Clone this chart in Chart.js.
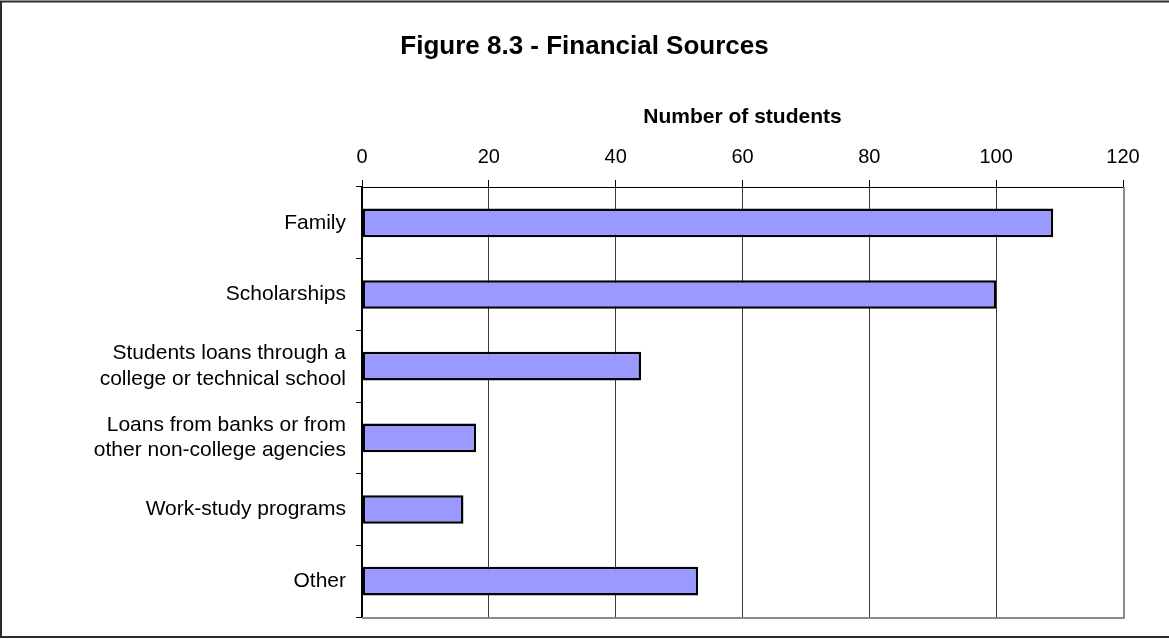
<!DOCTYPE html>
<html>
<head>
<meta charset="utf-8">
<title>Figure 8.3 - Financial Sources</title>
<script src="https://cdn.jsdelivr.net/npm/chart.js@4.4.1/dist/chart.umd.min.js"></script>
<style>
    html, body { margin: 0; padding: 0; background: #fff; }
    canvas { display: block; }
</style>
</head>
<body>
<canvas id="sources-chart" width="1169" height="639"></canvas>
<script>
// Financial sources reported by students
const sourceLabels = [
    'Family',
    'Scholarships',
    ['Students loans through a', 'college or technical school'],
    ['Loans from banks or from', 'other non-college agencies'],
    'Work-study programs',
    'Other'
];
const studentCounts = [109, 100, 44, 18, 16, 53];
const axisMin = 0;
const axisMax = 120;
const axisStep = 20;

const FONT = "Arial, 'Liberation Sans', Helvetica, sans-serif";

// Outer frame plus the grey right/bottom edges of the plot area
const framePlugin = {
    id: 'frame',
    afterDraw(chart) {
        const ctx = chart.ctx;
        const area = chart.chartArea;
        ctx.save();
        ctx.strokeStyle = '#8c8c8c';
        ctx.lineWidth = 2;
        ctx.beginPath();
        ctx.moveTo(area.right + 1, area.top);
        ctx.lineTo(area.right + 1, area.bottom + 1);
        ctx.lineTo(area.left, area.bottom + 1);
        ctx.stroke();

        ctx.strokeStyle = '#2b2b2b';
        ctx.lineWidth = 2;
        ctx.beginPath();
        ctx.moveTo(chart.width, 1.5);
        ctx.lineTo(1, 1.5);
        ctx.lineTo(1, chart.height - 2);
        ctx.lineTo(chart.width, chart.height - 2);
        ctx.stroke();
        ctx.restore();
    }
};

new Chart(document.getElementById('sources-chart'), {
    type: 'bar',
    data: {
        labels: sourceLabels,
        datasets: [{
            label: 'Number of students',
            data: studentCounts,
            backgroundColor: '#9999ff',
            borderColor: '#000000',
            borderWidth: 2.5,
            borderSkipped: false,
            barPercentage: 0.4,
            categoryPercentage: 1.0
        }]
    },
    options: {
        indexAxis: 'y',
        responsive: false,
        animation: false,
        devicePixelRatio: 1,
        layout: {
            padding: { top: 0, left: 0, right: 0, bottom: 22 }
        },
        plugins: {
            legend: { display: false },
            tooltip: { enabled: false },
            title: {
                display: true,
                text: 'Figure 8.3 - Financial Sources',
                color: '#000',
                font: { family: FONT, size: 26, weight: 'bold' },
                padding: { top: 31, bottom: 38.2 }
            }
        },
        scales: {
            x: {
                position: 'top',
                min: axisMin,
                max: axisMax,
                ticks: {
                    stepSize: axisStep,
                    color: '#000',
                    padding: 11,
                    font: { family: FONT, size: 20 }
                },
                grid: {
                    color: '#3a3a3a',
                    lineWidth: 1,
                    tickLength: 7,
                    tickColor: '#000'
                },
                border: { display: true, color: '#000', width: 1 },
                title: {
                    display: true,
                    text: 'Number of students',
                    color: '#000',
                    font: { family: FONT, size: 21, weight: 'bold' },
                    padding: { top: 4, bottom: 4.4 }
                },
                afterFit(scale) {
                    // leave white space right of the plot
                    scale.paddingRight = 46;
                }
            },
            y: {
                ticks: {
                    color: '#000',
                    padding: 10,
                    font: { family: FONT, size: 21 }
                },
                grid: {
                    offset: true,
                    drawOnChartArea: false,
                    tickLength: 6,
                    color: '#000'
                },
                border: { display: true, color: '#000', width: 2 },
                afterFit(scale) {
                    scale.width = 362;
                    scale.paddingTop = 0;
                    scale.paddingBottom = 0;
                }
            }
        }
    },
    plugins: [framePlugin]
});
</script>
</body>
</html>
